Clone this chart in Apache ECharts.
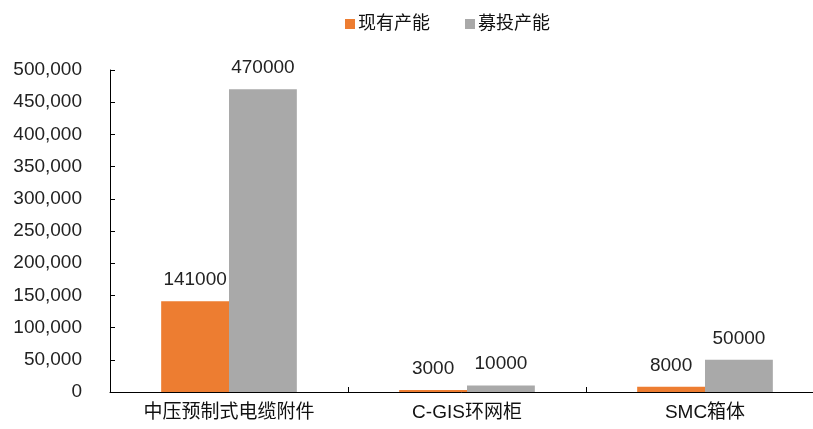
<!DOCTYPE html>
<html><head><meta charset="utf-8">
<script src="https://cdn.jsdelivr.net/npm/echarts@6/dist/echarts.min.js"></script>
<style>html,body{margin:0;padding:0;background:#fff}#c{width:813px;height:429px}</style>
</head><body><div id="c"></div>
<script>
const categories = ['中压预制式电缆附件', 'C-GIS环网柜', 'SMC箱体'];
const seriesNames = ['现有产能', '募投产能'];
const existing = [141000, 3000, 8000];
const planned = [470000, 10000, 50000];
const yTicks = { min: 0, max: 500000, interval: 50000 };

const FONT = 'Liberation Sans, Arial, Noto Sans CJK SC, sans-serif';
const chart = echarts.init(document.getElementById('c'));
const labelCfg = { show: true, position: 'top', distance: 12, color: '#222', fontSize: 19, fontFamily: FONT };
chart.setOption({
  animation: false,
  backgroundColor: '#fff',
  textStyle: { fontFamily: FONT },
  legend: {
    top: 10, left: 340, itemWidth: 10, itemHeight: 10, itemGap: 35,
    icon: 'rect',
    textStyle: { fontSize: 18, color: '#111', fontFamily: FONT, padding: [0, 0, 0, -2] },
    data: seriesNames
  },
  grid: { left: 110, top: 70, width: 714, bottom: 37, containLabel: false, outerBoundsMode: 'none' },
  xAxis: {
    type: 'category', data: categories,
    axisLine: { lineStyle: { color: '#000', width: 1 } },
    axisTick: { show: true, inside: true, length: 5, alignWithLabel: false, lineStyle: { color: '#000' } },
    axisLabel: { color: '#111', fontSize: 19, margin: 11, fontFamily: FONT }
  },
  yAxis: {
    type: 'value', min: yTicks.min, max: yTicks.max, interval: yTicks.interval,
    axisLine: { show: true, lineStyle: { color: '#000', width: 1 } },
    axisTick: { show: true, inside: true, length: 5, lineStyle: { color: '#000' } },
    splitLine: { show: false },
    axisLabel: {
      color: '#222', fontSize: 19, margin: 28, fontFamily: FONT,
      formatter: v => v.toLocaleString('en-US')
    }
  },
  series: [
    { name: seriesNames[0], type: 'bar', data: existing, barGap: '0%', barCategoryGap: '43%',
      itemStyle: { color: '#ED7D31' }, label: labelCfg },
    { name: seriesNames[1], type: 'bar', data: planned, barGap: '0%', barCategoryGap: '43%',
      itemStyle: { color: '#A9A9A9' }, label: labelCfg }
  ]
});
</script></body></html>
